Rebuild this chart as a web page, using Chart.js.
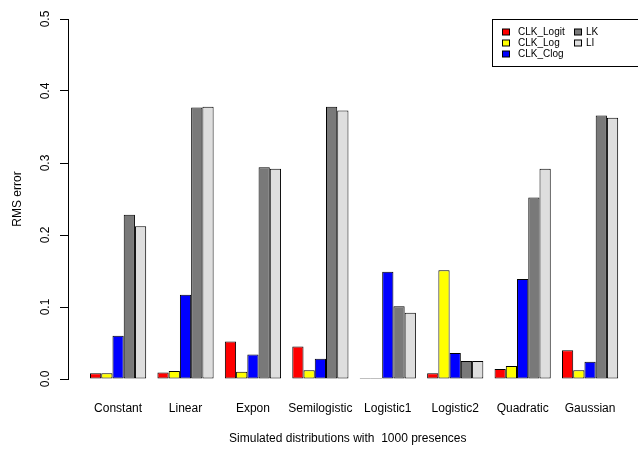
<!DOCTYPE html>
<html>
<head>
<meta charset="utf-8">
<title>RMS error by simulated distribution</title>
<script src="https://cdn.jsdelivr.net/npm/chart.js@4/dist/chart.umd.min.js"></script>
<style>
  html, body { margin: 0; padding: 0; background: #ffffff; }
  #wrap { width: 638px; height: 450px; }
</style>
</head>
<body>
<div id="wrap"><canvas id="chart" width="638" height="450"></canvas></div>
<script>
// Simulated distributions (x categories)
const categories = ['Constant', 'Linear', 'Expon', 'Semilogistic', 'Logistic1', 'Logistic2', 'Quadratic', 'Gaussian'];

// RMS error of each method per distribution
const clkLogit = [0.008, 0.009, 0.052, 0.045, 0.0015, 0.008, 0.014, 0.040];
const clkLog   = [0.008, 0.011, 0.010, 0.012, 0.0015, 0.151, 0.018, 0.012];
const clkClog  = [0.060, 0.117, 0.034, 0.028, 0.149, 0.036, 0.139, 0.024];
const lk       = [0.228, 0.377, 0.294, 0.378, 0.101, 0.025, 0.252, 0.366];
const li       = [0.212, 0.378, 0.292, 0.373, 0.092, 0.025, 0.292, 0.363];

// Y axis ticks
const yTicks = [0.0, 0.1, 0.2, 0.3, 0.4, 0.5];

const seriesNames  = ['CLK_Logit', 'CLK_Log', 'CLK_Clog', 'LK', 'LI'];
const seriesValues = [clkLogit, clkLog, clkClog, lk, li];
const seriesFills  = ['#ff0000', '#ffff00', '#0000ff', '#797979', '#dedede'];

const FONT = 'Liberation Sans, Arial, Helvetica, sans-serif';
const TEXT_SIZE = 12;

const datasets = seriesNames.map((name, k) => ({
  label: name,
  data: seriesValues[k].map((v, i) => ({ x: i, y: v })),
  backgroundColor: seriesFills[k],
  borderColor: '#000000',
  borderWidth: 1,
  borderSkipped: false,
  categoryPercentage: 5 / 6,
  barPercentage: 1.0
}));

// Boxed two-column legend in the top-right corner of the plot
const boxLegend = {
  id: 'boxLegend',
  afterDraw(chart) {
    const ctx = chart.ctx;
    const ds = chart.data.datasets;
    const box = { left: 492.5, top: 19.5, right: 640, bottom: 66.5 };
    ctx.save();
    ctx.fillStyle = '#ffffff';
    ctx.fillRect(box.left, box.top, box.right - box.left, box.bottom - box.top);
    ctx.strokeStyle = '#000000';
    ctx.lineWidth = 1;
    ctx.strokeRect(box.left, box.top, box.right - box.left, box.bottom - box.top);
    ctx.font = '10px ' + FONT;
    ctx.textBaseline = 'middle';
    ctx.textAlign = 'left';
    const cols = [{ sq: 502.5, txt: 518 }, { sq: 574.5, txt: 586 }];
    const rows = [32, 43, 54];
    ds.forEach((d, i) => {
      const col = cols[i < 3 ? 0 : 1];
      const y = rows[i < 3 ? i : i - 3];
      ctx.fillStyle = d.backgroundColor;
      ctx.fillRect(col.sq, y - 3, 7, 6);
      ctx.strokeStyle = '#000000';
      ctx.strokeRect(col.sq, y - 3, 7, 6);
      ctx.fillStyle = '#000000';
      ctx.fillText(d.label, col.txt, y + 0.5);
    });
    ctx.restore();
  }
};

new Chart(document.getElementById('chart'), {
  type: 'bar',
  data: { datasets },
  options: {
    responsive: false,
    animation: false,
    events: [],
    layout: { padding: { left: 0, right: 8.6, top: 19, bottom: 0 } },
    plugins: {
      legend: { display: false },
      tooltip: { enabled: false }
    },
    scales: {
      x: {
        type: 'linear',
        offset: false,
        min: -0.743,
        max: 7.557,
        grid: { display: false, drawTicks: false, offset: false },
        border: { display: false },
        ticks: {
          stepSize: 1,
          includeBounds: false,
          autoSkip: false,
          maxRotation: 0,
          minRotation: 0,
          padding: 22,
          color: '#000000',
          font: { family: FONT, size: TEXT_SIZE },
          callback: (value) => Number.isInteger(value) ? categories[value] : ''
        },
        title: {
          display: true,
          text: 'Simulated distributions with  1000 presences',
          color: '#000000',
          font: { family: FONT, size: TEXT_SIZE },
          padding: { top: 0, bottom: 3.8 }
        },
        afterFit: (scale) => { scale.height = 71; }
      },
      y: {
        type: 'linear',
        min: yTicks[0],
        max: yTicks[yTicks.length - 1],
        afterBuildTicks: (scale) => { scale.ticks = yTicks.map(v => ({ value: v })); },
        grid: {
          drawOnChartArea: false,
          drawTicks: true,
          tickLength: 8,
          color: '#000000',
          lineWidth: 1
        },
        border: { display: true, color: '#000000', width: 1 },
        ticks: {
          minRotation: 90,
          maxRotation: 90,
          crossAlign: 'center',
          padding: 5.6,
          color: '#000000',
          font: { family: FONT, size: TEXT_SIZE },
          callback: (value) => Number(value).toFixed(1)
        },
        title: {
          display: true,
          text: 'RMS error',
          color: '#000000',
          font: { family: FONT, size: TEXT_SIZE },
          padding: { top: 10.5, bottom: 0 }
        },
        afterFit: (scale) => { scale.width = 68; }
      }
    }
  },
  plugins: [boxLegend]
});
</script>
</body>
</html>
